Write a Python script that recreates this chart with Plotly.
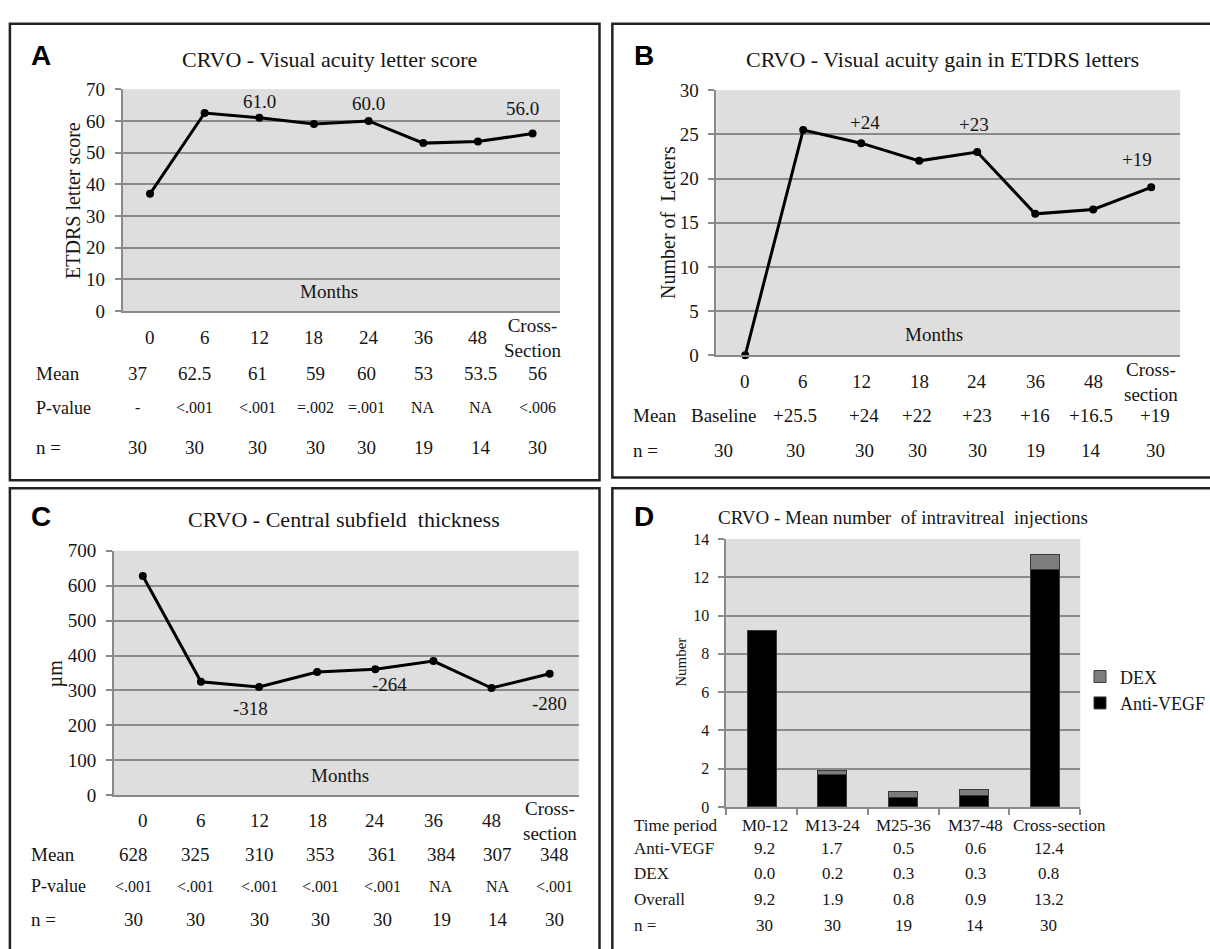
import plotly.graph_objects as go

W, H = 1210, 949


def px(x):
    return x / W


def py(y):
    return 1 - y / H


# ---------------- data ----------------
months_a = ["0", "6", "12", "18", "24", "36", "48", "Cross-<br>Section"]
months_bc = ["0", "6", "12", "18", "24", "36", "48", "Cross-<br>section"]

va_score = [37, 62.5, 61, 59, 60, 53, 53.5, 56]
va_score_labels = ["", "", "61.0", "", "60.0", "", "", "56.0"]
va_score_mean = ["37", "62.5", "61", "59", "60", "53", "53.5", "56"]
va_score_p = ["-", "<.001", "<.001", "=.002", "=.001", "NA", "NA", "<.006"]
va_score_n = ["30", "30", "30", "30", "30", "19", "14", "30"]

va_gain = [0, 25.5, 24, 22, 23, 16, 16.5, 19]
va_gain_labels = ["", "", "+24", "", "+23", "", "", "+19"]
va_gain_mean = ["Baseline", "+25.5", "+24", "+22", "+23", "+16", "+16.5", "+19"]
va_gain_n = ["30", "30", "30", "30", "30", "19", "14", "30"]

cst = [628, 325, 310, 353, 361, 384, 307, 348]
cst_labels = ["", "", "-318", "", "-264", "", "", "-280"]
cst_mean = ["628", "325", "310", "353", "361", "384", "307", "348"]
cst_p = ["<.001", "<.001", "<.001", "<.001", "<.001", "NA", "NA", "<.001"]
cst_n = ["30", "30", "30", "30", "30", "19", "14", "30"]

periods = ["M0-12", "M13-24", "M25-36", "M37-48", "Cross-section"]
anti_vegf = [9.2, 1.7, 0.5, 0.6, 12.4]
dex = [0.0, 0.2, 0.3, 0.3, 0.8]
overall = [9.2, 1.9, 0.8, 0.9, 13.2]
inj_n = ["30", "30", "19", "14", "30"]

# ---------------- style ----------------
SERIF = "Liberation Serif, Times New Roman, serif"
SANS = "Liberation Sans, Arial, sans-serif"
TXT = "#151515"
GRID = "#8a8a8a"
BG = "#dedede"

# label offsets (pixels) for the data labels and table columns
a_lab_shift = [(0, 0), (0, 0), (0, 16), (0, 0), (0, 17), (0, 0), (0, 0), (-10, 25)]
b_lab_shift = [(0, 0), (0, 0), (4, 21), (0, 0), (-3, 28), (0, 0), (0, 0), (-14, 28)]
c_lab_shift = [(0, 0), (0, 0), (-9, -22), (0, 0), (14, -15), (0, 0), (0, 0), (0, -30)]
a_col = [-12, -10, -2, 2, -2, 0, 3, 5]
b_col = [-22, -8, 3, -2, 0, 0, -2, 4]
c_col = [-9, -5, 0, 3, 7, 8, 6, 5]
d_col = [3, 0, 0, 1, 4]

fig = go.Figure()

idx = list(range(8))
for ys, xa, ya in [(va_score, "x", "y"), (va_gain, "x2", "y2"), (cst, "x3", "y3")]:
    fig.add_trace(go.Scatter(x=idx, y=ys, mode="lines+markers",
                             line=dict(color="black", width=3), marker=dict(color="black", size=8),
                             xaxis=xa, yaxis=ya, showlegend=False, cliponaxis=False))
fig.add_trace(go.Bar(x=periods, y=anti_vegf, name="Anti-VEGF", width=0.41,
                     marker=dict(color="black", line=dict(color="#3a3a3a", width=1)),
                     xaxis="x4", yaxis="y4"))
fig.add_trace(go.Bar(x=periods, y=dex, name="DEX", width=0.41,
                     marker=dict(color="#7d7d7d", line=dict(color="#3a3a3a", width=1)),
                     xaxis="x4", yaxis="y4"))

panels = {
    "": dict(x=(124, 566), y=(81, 308), rng=(0, 70), dt=10),
    "2": dict(x=(724, 1193), y=(82, 353), rng=(0, 30), dt=5),
    "3": dict(x=(115, 585), y=(553, 803), rng=(0, 700), dt=100),
    "4": dict(x=(734, 1092), y=(541, 815), rng=(0, 14), dt=2),
}
lay = {}
for k, p in panels.items():
    tsize = 16 if k == "4" else 19
    xa = dict(domain=[px(p["x"][0]), px(p["x"][1])], anchor="y" + k,
              showgrid=False, zeroline=False, showline=True, linecolor=GRID, linewidth=1.5,
              showticklabels=False, fixedrange=True)
    if k == "4":
        xa.update(type="category", ticks="outside", tickson="boundaries", ticklen=6,
                  tickcolor=GRID, tickwidth=1.5, range=[-0.5, 4.5])
    else:
        xa.update(type="linear", range=[-0.5, 7.5], ticks="")
    ya = dict(domain=[py(p["y"][1]), py(p["y"][0])], anchor="x" + k,
              range=list(p["rng"]), dtick=p["dt"], showgrid=True, gridcolor=GRID, gridwidth=1.6,
              zeroline=False, showline=True, linecolor=GRID, linewidth=1.5,
              ticks="outside", ticklen=6, tickcolor=GRID, tickwidth=1.5, ticklabelstandoff=6,
              tickfont=dict(family=SERIF, size=tsize, color=TXT), fixedrange=True)
    lay["xaxis" + k] = xa
    lay["yaxis" + k] = ya

fig.update_layout(**lay)

ann = []


def text(x, y, s, size=19, xref="paper", xanchor="center", family=SERIF, angle=0, bold=False, xshift=0):
    if bold:
        s = "<b>" + s + "</b>"
    ann.append(dict(x=x if xref != "paper" else px(x), y=py(y), xref=xref, yref="paper", text=s,
                    showarrow=False, xanchor=xanchor, yanchor="middle", textangle=angle, xshift=xshift,
                    font=dict(family=family, size=size, color="black" if bold else TXT)))


def point_labels(labels, values, xref, yref, shifts):
    for i, (lab, v) in enumerate(zip(labels, values)):
        if lab:
            ann.append(dict(x=i, y=v, xref=xref, yref=yref, text=lab, showarrow=False,
                            xanchor="center", yanchor="middle",
                            xshift=shifts[i][0], yshift=shifts[i][1],
                            font=dict(family=SERIF, size=19, color=TXT)))


point_labels(va_score_labels, va_score, "x", "y", a_lab_shift)
point_labels(va_gain_labels, va_gain, "x2", "y2", b_lab_shift)
point_labels(cst_labels, cst, "x3", "y3", c_lab_shift)

# panel letters
for L, (x, y) in {"A": (41, 47), "B": (651, 47), "C": (41, 518), "D": (651, 518)}.items():
    text(x, y, L, size=28, family=SANS, bold=True)

# titles
text(333, 51, "CRVO - Visual acuity letter score", size=22)
text(953, 51, "CRVO - Visual acuity gain in ETDRS letters", size=22)
text(348, 521, "CRVO - Central subfield\u00a0 thickness", size=22)
text(913, 519, "CRVO - Mean number\u00a0 of intravitreal\u00a0 injections", size=19)

# y titles
text(73, 195, "ETDRS letter score", size=20, angle=-90)
text(675, 217, "Number of\u00a0 Letters", size=20, angle=-90)
text(57, 678, "µm", size=20, angle=-90)
text(689, 667, "Number", size=15, angle=-90)

# "Months"
text(333, 288, "Months", size=19)
text(944, 332, "Months", size=19)
text(344, 783, "Months", size=19)

# Panel A table
for i in idx:
    text(i, 335, months_a[i], xref="x")
    text(i, 372, va_score_mean[i], xref="x", xshift=a_col[i])
    text(i, 407, va_score_p[i], size=16, xref="x", xshift=a_col[i])
    text(i, 447, va_score_n[i], xref="x", xshift=a_col[i])
text(34, 372, "Mean", xanchor="left")
text(34, 407, "P-value", size=18, xanchor="left")
text(34, 447, "n =", xanchor="left")

# Panel B table
for i in idx:
    text(i, 380, months_bc[i], xref="x2")
    text(i, 415, va_gain_mean[i], xref="x2", xshift=b_col[i])
    text(i, 450, va_gain_n[i], xref="x2", xshift=b_col[i])
text(638, 415, "Mean", xanchor="left")
text(638, 450, "n =", xanchor="left")

# Panel C table
for i in idx:
    text(i, 829, months_bc[i], xref="x3")
    text(i, 864, cst_mean[i], xref="x3", xshift=c_col[i])
    text(i, 896, cst_p[i], size=16, xref="x3", xshift=c_col[i])
    text(i, 930, cst_n[i], xref="x3", xshift=c_col[i])
text(29, 864, "Mean", xanchor="left")
text(29, 896, "P-value", size=18, xanchor="left")
text(29, 930, "n =", xanchor="left")

# Panel D table
for i in range(5):
    text(i, 834, periods[i], size=17, xref="x4", xshift=15 if i == 4 else d_col[i])
    text(i, 857, f"{anti_vegf[i]:.1f}", size=17, xref="x4", xshift=d_col[i])
    text(i, 883, f"{dex[i]:.1f}", size=17, xref="x4", xshift=d_col[i])
    text(i, 910, f"{overall[i]:.1f}", size=17, xref="x4", xshift=d_col[i])
    text(i, 936, inj_n[i], size=17, xref="x4", xshift=d_col[i])
text(639, 834, "Time period", size=17, xanchor="left")
text(639, 857, "Anti-VEGF", size=17, xanchor="left")
text(639, 883, "DEX", size=17, xanchor="left")
text(639, 910, "Overall", size=17, xanchor="left")
text(639, 936, "n =", size=17, xanchor="left")

# panel borders
shapes = []
for (x0, y0, x1, y1) in [(10, 14, 606, 481), (619, 14, 1240, 478), (10, 489, 606, 980), (619, 489, 1240, 980)]:
    shapes.append(dict(type="rect", xref="paper", yref="paper", x0=px(x0), x1=px(x1), y0=py(y1), y1=py(y0),
                       line=dict(color="#222222", width=2.5), fillcolor="rgba(0,0,0,0)", layer="above"))

fig.update_layout(
    width=W, height=H, margin=dict(l=0, r=0, t=0, b=0),
    paper_bgcolor="white", plot_bgcolor=BG, barmode="stack",
    annotations=ann, shapes=shapes,
    legend=dict(x=px(1092), y=py(663), xanchor="left", yanchor="top", traceorder="reversed",
                font=dict(family=SERIF, size=18, color=TXT), bgcolor="rgba(0,0,0,0)",
                itemwidth=30, tracegroupgap=0),
    font=dict(family=SERIF, color=TXT),
)

fig.write_html("out.html", config={"displayModeBar": False},
               post_script="document.body.style.margin='0';document.body.style.overflow='hidden';")
